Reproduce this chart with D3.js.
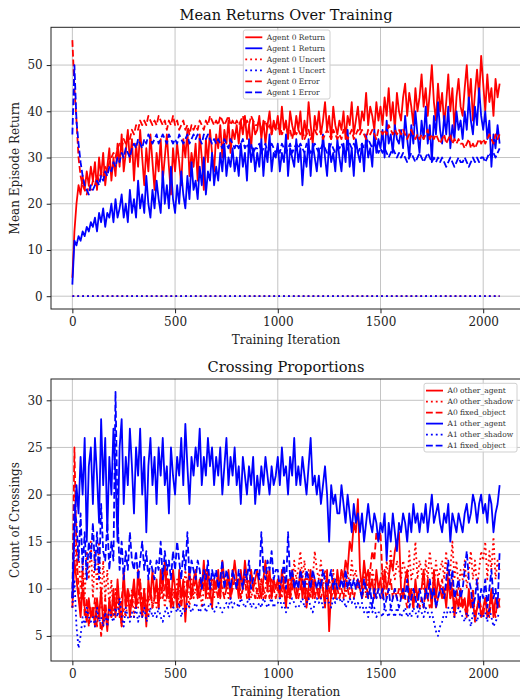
<!DOCTYPE html>
<html>
<head>
<meta charset="utf-8">
<script src="https://cdn.jsdelivr.net/npm/d3@7"></script>
<style>
  body { margin: 0; background: #fff; }
  text { font-family: "DejaVu Serif", serif; }
</style>
</head>
<body>
<script>
// training iterations, one sample every 10 iterations (0 .. 2080)
const iterations = d3.range(0, 2081, 10);
const uncertIterations = [0, 2080];

const xTicks = [0, 500, 1000, 1500, 2000];
const returnTicks = [0, 10, 20, 30, 40, 50];
const crossingTicks = [5, 10, 15, 20, 25, 30];

// --- Mean Returns Over Training ---
const agent0Return = [
  4, 14, 20, 24, 22, 26, 23, 27, 24, 28,
  25, 29, 23, 30, 26, 31, 24, 28, 32, 25,
  30, 26, 33, 28, 35, 27, 31, 36, 29, 34,
  25, 33, 28, 36, 30, 24, 32, 27, 35, 29,
  23, 31, 27, 34, 25, 30, 35, 28, 22, 32,
  27, 33, 29, 24, 34, 30, 36, 26, 31, 28,
  33, 25, 35, 30, 23, 34, 29, 36, 31, 27,
  35, 32, 37, 30, 36, 33, 38, 31, 36, 34,
  37, 33, 38, 35, 39, 34, 37, 32, 38, 35,
  36, 39, 34, 38, 33, 37, 40, 35, 38, 36,
  39, 35, 41, 36, 38, 34, 40, 37, 35, 39,
  36, 40, 34, 38, 35, 42, 37, 33, 39, 36,
  40, 35, 38, 42, 36, 39, 34, 41, 37, 35,
  38, 36, 40, 34, 39, 37, 42, 35, 38, 41,
  36, 40, 38, 44, 37, 41, 39, 36, 42, 38,
  41, 37, 43, 39, 45, 38, 42, 36, 44, 40,
  38, 43, 46, 39, 44, 41, 37, 45, 40, 43,
  48, 41, 45, 39, 44, 50, 42, 38, 46, 40,
  44, 37, 42, 48, 40, 45, 36, 43, 47, 41,
  39, 45, 50, 42, 47, 38, 44, 49, 43, 52,
  46, 40, 48, 42, 45, 39, 47, 43, 46
];
const agent1Return = [
  2.5, 12, 11, 13, 12, 14, 13, 15, 14, 16,
  15, 17, 14, 18, 16, 19, 15, 18, 17, 20,
  16, 21, 17, 19, 22, 17, 20, 16, 23, 18,
  21, 17, 25, 19, 22, 18, 26, 20, 17, 23,
  19, 25, 21, 18, 27, 20, 24, 19, 28, 21,
  18, 24, 20, 27, 22, 19, 26, 21, 29, 23,
  25, 21, 28, 24, 30, 22, 27, 25, 31, 24,
  28, 25, 31, 27, 33, 26, 30, 28, 32, 27,
  30, 26, 33, 28, 31, 25, 34, 29, 32, 27,
  31, 28, 34, 26, 32, 29, 35, 27, 31, 30,
  33, 27, 31, 29, 35, 26, 32, 30, 28, 34,
  29, 32, 24, 31, 28, 34, 26, 33, 30, 27,
  32, 28, 35, 30, 26, 33, 29, 31, 27, 34,
  30, 27, 33, 29, 36, 28, 32, 26, 34, 31,
  29, 33, 27, 35, 30, 32, 28, 36, 31, 34,
  32, 36, 30, 38, 33, 35, 31, 37, 34, 33,
  36, 32, 39, 34, 30, 37, 33, 40, 35, 31,
  38, 34, 41, 33, 37, 29, 39, 35, 42, 36,
  33, 39, 35, 41, 32, 37, 34, 40, 36, 38,
  34, 40, 36, 43, 38, 35, 41, 37, 45, 39,
  36, 40, 34, 38, 28, 35, 32, 37, 33
];
const agent0Uncert = [0, 0];
const agent1Uncert = [0, 0];
const agent0Error = [
  55.4, 45, 38, 30, 26, 24, 23, 22, 24, 23,
  25, 24, 26, 25, 27, 26, 28, 27, 29, 30,
  31, 30, 32, 33, 32, 34, 33, 35, 34, 36,
  35, 37, 36, 38, 37, 38, 37, 39, 38, 37,
  38, 37, 39, 38, 37, 38, 36, 38, 37, 39,
  37, 38, 36, 37, 38, 36, 37, 35, 37, 36,
  37, 36, 38, 37, 36, 38, 37, 39, 38, 37,
  38, 37, 39, 38, 37, 38, 39, 37, 38, 37,
  38, 37, 38, 39, 37, 38, 37, 39, 38, 37,
  37, 38, 36, 37, 38, 36, 37, 35, 37, 36,
  36, 37, 35, 36, 37, 35, 36, 34, 36, 35,
  36, 35, 36, 34, 35, 36, 34, 35, 36, 35,
  35, 36, 34, 35, 36, 35, 34, 36, 35, 34,
  35, 34, 36, 35, 34, 35, 36, 34, 35, 36,
  35, 36, 35, 34, 36, 35, 36, 35, 34, 36,
  36, 35, 36, 35, 37, 36, 35, 36, 35, 36,
  35, 36, 35, 34, 35, 36, 35, 34, 35, 34,
  35, 34, 35, 36, 34, 35, 34, 35, 34, 33,
  34, 35, 33, 34, 35, 33, 34, 33, 34, 33,
  33, 32, 33, 34, 32, 33, 32, 33, 34, 33,
  34, 33, 34, 35, 34, 33, 35, 34, 35
];
const agent1Error = [
  35, 50, 38, 33, 29, 26, 24, 23, 22, 24,
  23, 24, 25, 24, 26, 25, 27, 26, 28, 27,
  29, 28, 30, 29, 31, 30, 32, 31, 30, 32,
  33, 32, 34, 33, 32, 34, 33, 35, 34, 33,
  34, 35, 33, 34, 35, 34, 33, 35, 34, 33,
  34, 33, 35, 34, 33, 34, 35, 33, 34, 35,
  34, 35, 34, 33, 35, 34, 35, 34, 33, 34,
  33, 34, 33, 32, 34, 33, 32, 34, 33, 32,
  33, 32, 33, 34, 32, 33, 32, 33, 31, 32,
  32, 33, 31, 32, 33, 31, 32, 33, 32, 31,
  32, 31, 33, 32, 31, 32, 33, 31, 32, 33,
  32, 33, 32, 31, 33, 32, 31, 32, 33, 32,
  31, 32, 33, 32, 31, 32, 33, 32, 31, 32,
  32, 33, 32, 31, 32, 33, 32, 33, 32, 31,
  32, 33, 32, 33, 34, 33, 32, 33, 32, 31,
  32, 31, 32, 31, 30, 31, 32, 31, 30, 31,
  30, 31, 30, 29, 30, 31, 30, 29, 30, 31,
  30, 29, 30, 31, 30, 29, 30, 29, 30, 29,
  30, 29, 28, 29, 30, 29, 28, 29, 30, 29,
  29, 30, 29, 28, 29, 30, 29, 30, 29, 30,
  30, 29, 30, 31, 30, 31, 30, 31, 32
];

// --- Crossing Proportions ---
const a0OtherAgent = [
  8, 13, 11, 9, 7, 10, 8, 6.5, 9, 7,
  8, 6, 9, 7, 10, 6, 8, 5.5, 9, 7,
  10, 7, 11, 8, 6, 12, 8, 10, 7, 9,
  11, 8, 12, 9, 7, 10, 6, 11, 9, 12,
  9, 11, 8, 12, 10, 13, 9, 11, 8, 12,
  10, 8, 12, 9, 11, 6.5, 10, 12, 9, 11,
  12, 9, 11, 10, 13, 9, 12, 10, 8, 11,
  10, 12, 9, 13, 11, 10, 12, 9, 11, 13,
  11, 9, 12, 10, 13, 11, 9, 12, 10, 11,
  12, 10, 9, 11, 13, 10, 12, 9, 11, 10,
  11, 9, 12, 10, 8, 11, 9, 12, 10, 9,
  10, 12, 9, 11, 8, 10, 12, 9, 11, 10,
  9, 11, 10, 8, 12, 5.5, 10, 11, 9, 12,
  10, 12, 11, 13, 12, 15, 14, 17, 16, 19.5,
  12, 10, 13, 11, 12, 10, 11, 9, 12, 10,
  11, 9, 12, 10, 11, 13, 12, 14, 15, 16,
  10, 9, 11, 12, 9, 10, 8, 11, 9, 10,
  10, 12, 9, 11, 10, 8, 12, 9, 11, 10,
  9, 10, 8, 11, 9, 10, 7, 9, 8, 10,
  8, 9, 7, 10, 8, 9, 6.5, 8, 9, 7,
  8, 9, 7, 8, 10, 7, 9, 8, 9
];
const a0OtherShadow = [
  8, 16, 12, 14, 10, 13, 9, 14, 11, 15,
  9, 14, 10, 15, 8, 13, 9, 12, 8, 11,
  7, 10, 8, 9, 6, 8, 7, 9, 8, 10,
  7, 9, 8, 10, 7, 8, 9, 7, 10, 8,
  9, 8, 10, 9, 11, 8, 10, 9, 8, 10,
  9, 11, 8, 10, 9, 12, 10, 8, 11, 9,
  10, 9, 11, 8, 10, 12, 9, 11, 10, 9,
  11, 10, 9, 12, 10, 11, 9, 10, 12, 11,
  10, 11, 9, 10, 12, 10, 11, 9, 10, 11,
  9, 10, 11, 9, 10, 12, 10, 9, 11, 10,
  10, 11, 9, 12, 10, 9, 11, 10, 13, 11,
  12, 14, 11, 13, 10, 12, 9, 11, 14, 12,
  11, 13, 10, 12, 9, 11, 10, 12, 9, 11,
  10, 12, 11, 9, 12, 10, 13, 11, 12, 10,
  11, 10, 12, 9, 11, 10, 12, 11, 9, 10,
  11, 12, 10, 13, 11, 14, 12, 11, 13, 12,
  11, 13, 12, 10, 14, 11, 12, 15, 11, 13,
  12, 10, 13, 11, 14, 12, 10, 13, 11, 12,
  13, 11, 14, 10, 12, 15, 11, 13, 10, 12,
  11, 13, 10, 12, 14, 11, 13, 10, 12, 14,
  13, 15, 11, 14, 12, 15.5, 11, 13, 12
];
const a0FixedObject = [
  9, 25, 14, 10, 8, 12, 7, 9, 6, 8,
  7, 9, 6, 8, 5, 7, 9, 6, 8, 7,
  9, 8, 10, 7, 9, 11, 8, 10, 9, 8,
  10, 8, 9, 11, 8, 10, 7, 9, 10, 8,
  9, 10, 8, 11, 9, 10, 12, 9, 10, 8,
  10, 9, 11, 8, 10, 9, 11, 10, 9, 10,
  11, 10, 9, 11, 10, 12, 10, 9, 11, 10,
  10, 9, 11, 10, 9, 10, 11, 9, 10, 11,
  10, 11, 9, 10, 11, 9, 10, 12, 10, 9,
  10, 9, 11, 10, 9, 10, 9, 11, 10, 9,
  10, 9, 10, 11, 9, 10, 9, 10, 11, 10,
  9, 10, 11, 9, 10, 9, 10, 11, 9, 10,
  10, 9, 10, 9, 11, 10, 9, 10, 9, 10,
  9, 10, 9, 11, 10, 9, 10, 9, 10, 11,
  10, 9, 10, 11, 9, 12, 14, 13, 16, 15,
  16, 11, 10, 9, 10, 11, 9, 10, 9, 10,
  9, 10, 9, 8, 10, 9, 8, 10, 9, 8,
  9, 8, 10, 9, 8, 9, 10, 8, 9, 10,
  11, 9, 10, 12, 9, 11, 8, 10, 9, 8,
  9, 8, 7, 9, 8, 10, 7, 8, 9, 8,
  7, 9, 8, 7, 9, 8, 7, 9, 8
];
const a1OtherAgent = [
  9, 16, 21, 18, 24, 20, 26, 15, 23, 25,
  19, 26, 22, 17, 28, 21, 26, 16, 24, 20,
  27, 22, 15, 25, 28, 19, 24, 21, 27, 23,
  18, 25, 22, 27, 20, 24, 16, 23, 26, 21,
  24, 19, 25, 22, 26, 21, 23, 18, 25, 22,
  20, 24, 22, 26, 21, 27.5, 23, 19, 24, 22,
  25, 23, 27, 21, 24, 22, 26, 23, 25, 21,
  24, 22, 25, 20, 23, 26, 21, 24, 22, 25,
  21, 23, 19, 24, 22, 20, 23, 21, 24, 19,
  22, 20, 23, 21, 24, 22, 20, 23, 21, 22,
  24, 21, 25, 22, 23, 20, 24, 22, 26, 21,
  23, 21, 24, 22, 20, 23, 26, 21, 22, 20,
  22, 19, 21, 23, 20, 15, 21, 19, 20, 18,
  18, 21, 19, 17, 20, 18, 16, 19, 17, 18,
  16, 18, 15, 17, 19, 17, 16, 18, 17, 15,
  17, 16, 18, 13, 17, 15, 18, 16, 14, 17,
  16, 18, 17, 15, 18, 16, 19, 17, 18, 16,
  18, 17, 19, 16, 18, 20, 17, 18, 19, 17,
  16, 18, 17, 19, 15, 18, 17, 16, 18, 17,
  16, 18, 19, 17, 18, 20, 19, 17, 19, 20,
  18, 19, 17, 20, 19, 16, 18, 19, 21
];
const a1OtherShadow = [
  8, 11, 6, 3.7, 5, 7, 6, 8, 7, 6.5,
  7, 6, 8, 6.5, 7, 6, 7.5, 6, 8, 7,
  6.5, 8, 7, 9, 7, 6, 8, 7, 6.5, 7.5,
  7, 8, 6.5, 7.5, 7, 8, 6.5, 7, 8, 7,
  7.5, 7, 8, 7, 6.5, 7.5, 8, 7, 7.5, 8,
  8, 7.5, 8.5, 7, 8, 7.5, 8.5, 8, 7.5, 8,
  8.5, 8, 7.5, 8, 8.5, 7.5, 8, 8.5, 8, 7.5,
  8, 8.5, 8, 7.5, 8, 8.5, 8, 9, 8, 8.5,
  8.5, 8, 9, 8.5, 8, 8.5, 9, 8, 8.5, 8,
  8, 8.5, 8, 9, 8.5, 8, 8.5, 9, 8, 8.5,
  8.5, 9, 8, 8.5, 7.5, 8, 8.5, 9, 8.5, 8,
  8, 8.5, 9, 8, 8.5, 9, 8, 7.5, 8.5, 9,
  8.5, 9, 8, 8.5, 9, 8.5, 8, 9, 8.5, 9,
  9, 8.5, 9, 8, 8.5, 9, 8.5, 9, 8, 8.5,
  8, 8.5, 7.5, 8, 7, 8.5, 7.5, 8, 7, 7.5,
  7.5, 7, 8, 7.5, 7, 8, 7.5, 7, 8, 7.5,
  7, 7.5, 8, 7, 7.5, 7, 8, 7.5, 7, 8,
  7.5, 7, 8, 7.5, 7, 7.5, 6.5, 5.5, 5, 6,
  6.5, 7.5, 7, 8, 7.5, 8, 7, 7.5, 8, 7.5,
  7, 6.5, 7.5, 7, 6, 7.5, 7, 6.5, 7.5, 7,
  7, 7.5, 6.5, 8, 7, 6, 6.5, 7, 7.5
];
const a1FixedObject = [
  9, 19, 17, 13, 18, 12, 16, 11, 15, 13,
  17, 12, 16, 11, 19, 14, 13, 17, 12, 15,
  13, 30.9, 18, 12, 15, 11, 14, 12, 16, 13,
  12, 14, 11, 13, 15, 12, 14, 11, 13, 12,
  11, 13, 12, 15, 11, 14, 12, 13, 11, 14,
  12, 15, 13, 11, 14, 12, 16, 11, 13, 12,
  11, 13, 12, 10, 12, 11, 13, 10, 12, 11,
  12, 10, 11, 13, 10, 12, 11, 10, 12, 11,
  10, 12, 11, 10, 12, 11, 13, 10, 11, 12,
  12, 11, 16, 12, 11, 13, 12, 14, 11, 12,
  12, 10, 11, 13, 10, 16, 11, 12, 10, 11,
  10, 12, 11, 10, 12, 11, 10, 12, 11, 10,
  11, 10, 12, 11, 10, 11, 12, 10, 11, 10,
  10, 11, 10, 12, 10, 11, 10, 11, 10, 11,
  10, 9, 11, 10, 9, 10, 8, 10, 9, 10,
  9, 10, 8, 9, 10, 8, 9, 10, 9, 8,
  9, 10, 9, 11, 8, 9, 10, 9, 8, 10,
  9, 8, 10, 9, 11, 9, 10, 8, 9, 10,
  10, 9, 11, 13, 10, 12, 9, 10, 11, 9,
  10, 12, 14, 11, 10, 8, 9, 11, 8, 10,
  9, 11, 8, 10, 12, 9, 10, 8, 14
];

const DASHED = "6.8,2.9";
const DOTTED = "1.85,3.05";

function padded(values) {
  let [lo, hi] = d3.extent(values);
  let m = (hi - lo) * 0.05;
  return [lo - m, hi + m];
}

function drawPanel(svg, panel) {
  let allX = panel.series.flatMap(s => s.x);
  let allY = panel.series.flatMap(s => s.y);

  let x = d3.scaleLinear().domain(padded(allX)).range([panel.left, panel.right]);
  let y = d3.scaleLinear().domain(padded(allY)).range([panel.bottom, panel.top]);

  // grid
  let grid = svg.append("g").attr("stroke", "#c4c4c4").attr("stroke-width", 1);
  grid.selectAll(".vg").data(xTicks).enter().append("line")
    .attr("x1", d => x(d)).attr("x2", d => x(d))
    .attr("y1", panel.top).attr("y2", panel.bottom);
  grid.selectAll(".hg").data(panel.yTicks).enter().append("line")
    .attr("x1", panel.left).attr("x2", panel.right)
    .attr("y1", d => y(d)).attr("y2", d => y(d));

  // lines
  let line = d3.line().x(d => x(d[0])).y(d => y(d[1]));
  panel.series.forEach(s => {
    svg.append("path")
      .datum(d3.zip(s.x, s.y))
      .attr("d", line)
      .attr("fill", "none")
      .attr("stroke", s.color)
      .attr("stroke-width", 1.8)
      .attr("stroke-linejoin", "round")
      .attr("stroke-dasharray", s.dash);
  });

  // spines
  svg.append("rect")
    .attr("x", panel.left).attr("y", panel.top)
    .attr("width", panel.right - panel.left).attr("height", panel.bottom - panel.top)
    .attr("fill", "none").attr("stroke", "#222").attr("stroke-width", 1);

  // axes
  let gx = svg.append("g")
    .attr("transform", "translate(0," + panel.bottom + ")")
    .call(d3.axisBottom(x).tickValues(xTicks).tickSize(4.3).tickPadding(4).tickFormat(d3.format("d")));
  let gy = svg.append("g")
    .attr("transform", "translate(" + panel.left + ",0)")
    .call(d3.axisLeft(y).tickValues(panel.yTicks).tickSize(4.3).tickPadding(4).tickFormat(d3.format("d")));
  [gx, gy].forEach(g => {
    g.select(".domain").remove();
    g.selectAll("text").attr("font-family", "DejaVu Serif").attr("font-size", 12).attr("fill", "#222");
    g.selectAll("line").attr("stroke", "#222");
  });

  let cx = (panel.left + panel.right) / 2;
  svg.append("text").attr("x", cx).attr("y", panel.top - 7)
    .attr("text-anchor", "middle").attr("font-size", 14.6).attr("fill", "#111")
    .text(panel.title);
  svg.append("text").attr("x", cx).attr("y", panel.bottom + 35)
    .attr("text-anchor", "middle").attr("font-size", 12).attr("fill", "#222")
    .text("Training Iteration");
  svg.append("text")
    .attr("transform", "translate(19," + ((panel.top + panel.bottom) / 2) + ") rotate(-90)")
    .attr("text-anchor", "middle").attr("font-size", 12).attr("fill", "#222")
    .text(panel.ylabel);

  drawLegend(svg, panel);
}

function drawLegend(svg, panel) {
  let lg = panel.legend;
  let leg = svg.append("g").attr("transform", "translate(" + lg.x + "," + lg.y + ")");
  leg.append("rect")
    .attr("width", lg.w).attr("height", lg.h).attr("rx", 2)
    .attr("fill", "#fff").attr("fill-opacity", 0.8)
    .attr("stroke", "#d0d0d0").attr("stroke-width", 1);
  let rows = leg.selectAll(".row").data(panel.series).enter().append("g")
    .attr("transform", (d, i) => "translate(0," + (7.3 + i * 11) + ")");
  rows.append("line")
    .attr("x1", 2).attr("x2", 19)
    .attr("stroke", d => d.color).attr("stroke-width", 1.8)
    .attr("stroke-dasharray", d => d.dash);
  rows.append("text")
    .attr("x", 23.5).attr("dy", "0.33em")
    .attr("font-size", 7.5).attr("fill", "#333")
    .text(d => d.label);
}

function main() {
  let svg = d3.select("body").append("svg")
    .attr("width", 520).attr("height", 700)
    .attr("style", "background: #fff");

  drawPanel(svg, {
    title: "Mean Returns Over Training",
    ylabel: "Mean Episode Return",
    left: 51, right: 521, top: 27.3, bottom: 309,
    yTicks: returnTicks,
    legend: { x: 243.3, y: 30, w: 86.7, h: 69 },
    series: [
      { label: "Agent 0 Return", x: iterations, y: agent0Return, color: "#ff0000", dash: null },
      { label: "Agent 1 Return", x: iterations, y: agent1Return, color: "#0000ff", dash: null },
      { label: "Agent 0 Uncert", x: uncertIterations, y: agent0Uncert, color: "#ff0000", dash: DOTTED },
      { label: "Agent 1 Uncert", x: uncertIterations, y: agent1Uncert, color: "#0000ff", dash: DOTTED },
      { label: "Agent 0 Error", x: iterations, y: agent0Error, color: "#ff0000", dash: DASHED },
      { label: "Agent 1 Error", x: iterations, y: agent1Error, color: "#0000ff", dash: DASHED }
    ]
  });

  drawPanel(svg, {
    title: "Crossing Proportions",
    ylabel: "Count of Crossings",
    left: 51, right: 521, top: 379, bottom: 661,
    yTicks: crossingTicks,
    legend: { x: 424, y: 383.3, w: 93, h: 68.7 },
    series: [
      { label: "A0 other_agent", x: iterations, y: a0OtherAgent, color: "#ff0000", dash: null },
      { label: "A0 other_shadow", x: iterations, y: a0OtherShadow, color: "#ff0000", dash: DOTTED },
      { label: "A0 fixed_object", x: iterations, y: a0FixedObject, color: "#ff0000", dash: DASHED },
      { label: "A1 other_agent", x: iterations, y: a1OtherAgent, color: "#0000ff", dash: null },
      { label: "A1 other_shadow", x: iterations, y: a1OtherShadow, color: "#0000ff", dash: DOTTED },
      { label: "A1 fixed_object", x: iterations, y: a1FixedObject, color: "#0000ff", dash: DASHED }
    ]
  });
}

main();
</script>
</body>
</html>
